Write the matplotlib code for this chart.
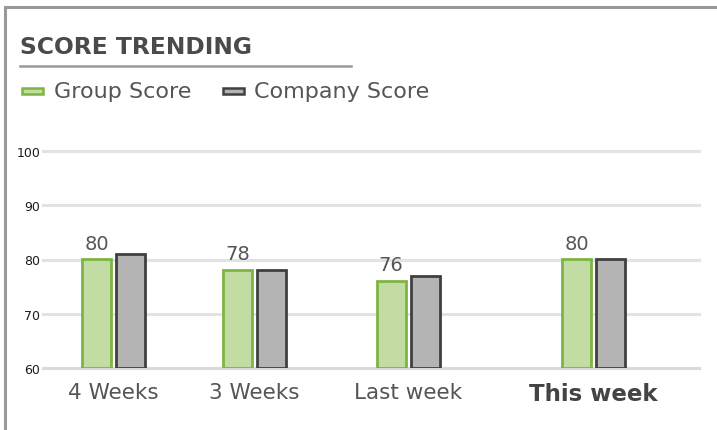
import matplotlib
matplotlib.use("Agg")
import matplotlib.pyplot as plt
from matplotlib.lines import Line2D
from matplotlib.patches import Rectangle
import numpy as np

# data
categories = ["4 Weeks", "3 Weeks", "Last week", "This week"]
group_score = [80, 78, 76, 80]
company_score = [81, 78, 77, 80]
y_ticks = [60, 70, 80, 90, 100]

W, H = 717, 431
GREEN_EDGE = "#7db544"
GREEN_FILL = "#c3dca4"
GREY_EDGE = "#404040"
GREY_FILL = "#b4b4b4"
TEXT = "#555555"


def fx(px):
    return px / W


def fy(py):
    return 1 - py / H


fig = plt.figure(figsize=(W / 100, H / 100), dpi=100)

# card border (top + left)
fig.add_artist(Line2D([fx(5), fx(5)], [fy(8), fy(431)], color="#999999", lw=2.2))
fig.add_artist(Line2D([fx(5), fx(717)], [fy(8), fy(8)], color="#999999", lw=2.2))

# title + underline
fig.text(fx(20), fy(54), "SCORE TRENDING", fontsize=16.8, fontweight="bold",
         color="#4a4a4a", va="baseline", ha="left")
fig.add_artist(Line2D([fx(20), fx(351)], [fy(67), fy(67)], color="#999999", lw=1.8))

# legend
def legend_item(x0, tx, label, edge, fill):
    fig.add_artist(Rectangle((fx(x0 + 1), fy(95)), fx(21), 6 / H, transform=fig.transFigure,
                             facecolor=fill, edgecolor=edge, lw=1.8))
    fig.text(fx(tx), fy(92.5), label, fontsize=16, color=TEXT, va="center", ha="left")

legend_item(21, 54, "Group Score", GREEN_EDGE, GREEN_FILL)
legend_item(222, 254, "Company Score", GREY_EDGE, GREY_FILL)

# plot area
ax = fig.add_axes([fx(43), fy(369), fx(699) - fx(43), fy(152) - fy(369)])
x_pos = np.array([113.5, 254.5, 408, 593.5])  # category centres (px)
bw = 29
gap = 5

ax.set_xlim(43, 699)
ax.set_ylim(60, 100)
for v in y_ticks:
    ax.axhline(v, color="#e3e3e3" if v > 60 else "#d9d9d9", lw=2.2, zorder=0, clip_on=False)

ax.bar(x_pos - (bw + gap) / 2, [g - 60 for g in group_score], bw, bottom=60,
       facecolor=GREEN_FILL, edgecolor=GREEN_EDGE, linewidth=2, zorder=2)
ax.bar(x_pos + (bw + gap) / 2, [c - 60 for c in company_score], bw, bottom=60,
       facecolor=GREY_FILL, edgecolor=GREY_EDGE, linewidth=2, zorder=2)

for xp, g in zip(x_pos, group_score):
    ax.annotate(str(g), (xp - (bw + gap) / 2, g), xytext=(0, 5), textcoords="offset points",
                ha="center", va="bottom", fontsize=14, color=TEXT)

ax.set_yticks(y_ticks)
ax.set_yticklabels([str(v) for v in y_ticks], fontsize=9, color="#1a1a1a")
ax.set_xticks(x_pos)
ax.set_xticklabels(categories, fontsize=15.5, color=TEXT)
last = ax.get_xticklabels()[-1]
last.set_fontweight("bold")
last.set_fontsize(16.5)
last.set_color("#444444")
ax.tick_params(axis="both", length=0)
ax.tick_params(axis="y", pad=2)
ax.tick_params(axis="x", pad=10)
for s in ax.spines.values():
    s.set_visible(False)

fig.savefig("out.png", dpi=100)
